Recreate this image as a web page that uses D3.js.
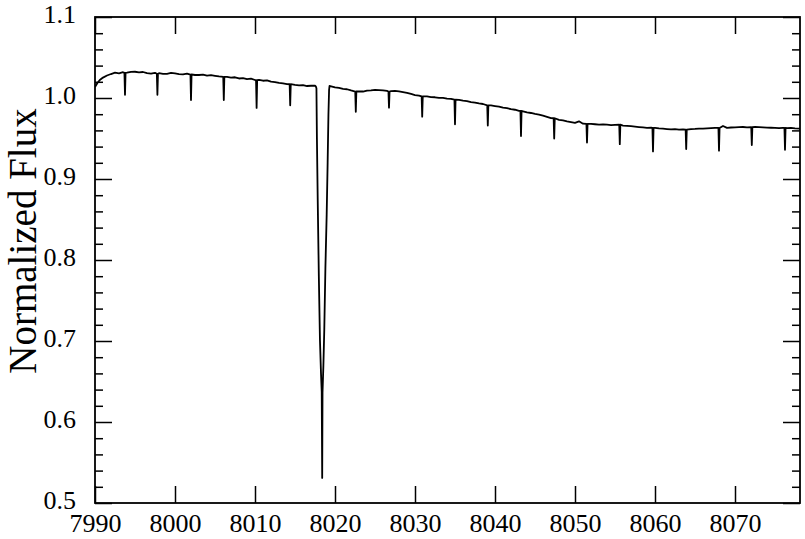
<!DOCTYPE html>
<html><head><meta charset="utf-8">
<script src="https://cdn.jsdelivr.net/npm/d3@7"></script>
<style>
body{margin:0;background:#fff}
svg{display:block}
text{font-family:"Liberation Serif","Times New Roman",serif;fill:#000}
</style>
</head><body>
<svg id="c" width="805" height="539"></svg>
<script>
// Continuum of the spectrum (wavelength in Å, normalized flux)
const contWave = [7990.0,7990.3,7990.6,7991.0,7991.5,7992.0,7992.5,7993.0,7993.5,7994.0,7994.5,7995.0,7995.5,7996.0,7996.5,7997.0,7997.5,7998.0,7998.5,7999.0,7999.5,8000.0,8000.5,8001.0,8001.5,8002.5,8003.0,8003.5,8004.0,8004.5,8005.0,8005.5,8006.5,8007.0,8007.5,8008.0,8008.5,8009.0,8009.5,8010.0,8010.5,8011.0,8011.5,8012.0,8012.5,8013.0,8013.5,8014.0,8015.0,8015.5,8016.0,8016.5,8017.0,8017.5,
  8019.4,8020.0,8020.5,8021.0,8021.5,8022.0,8023.0,8023.5,8024.0,8024.5,8025.0,8025.5,8026.0,8026.5,8027.0,8027.5,8028.0,8028.5,8029.0,8029.5,8030.0,8030.5,8031.5,8032.0,8032.5,8033.0,8033.5,8034.0,8034.5,8035.5,8036.0,8036.5,8037.0,8037.5,8038.0,8038.5,8039.5,8040.0,8040.5,8041.0,8041.5,8042.0,8042.5,8043.0,8043.5,8044.0,8044.5,8045.0,8045.5,8046.0,8046.5,8047.0,8048.0,8048.5,8049.0,8049.5,8050.0,8050.5,8051.0,8052.0,8052.5,8053.0,8053.5,8054.0,8054.5,8055.0,8056.0,8056.5,8057.0,8057.5,8058.0,8058.5,8059.0,8059.5,8060.0,8060.5,8061.0,8061.5,8062.0,8062.5,8063.0,8063.5,8064.5,8065.0,8065.5,8066.0,8066.5,8067.0,8067.5,8068.5,8069.0,8069.5,8070.0,8070.5,8071.0,8071.5,8072.5,8073.0,8073.5,8074.0,8074.5,8075.0,8075.5,8076.0,8076.5,8077.0,8077.5,8078.2];
const contFlux = [1.0135,1.0185,1.0222,1.0252,1.0278,1.0296,1.0312,1.0305,1.0318,1.0312,1.0322,1.0324,1.0316,1.0321,1.0306,1.0301,1.0311,1.0306,1.0298,1.0299,1.0309,1.0303,1.0296,1.0292,1.0301,1.0284,1.0284,1.0289,1.0277,1.0283,1.0274,1.0266,1.0260,1.0251,1.0256,1.0241,1.0245,1.0234,1.0238,1.0222,1.0225,1.0213,1.0218,1.0201,1.0197,1.0186,1.0180,1.0171,1.0162,1.0157,1.0160,1.0148,1.0151,1.0153,
  1.0148,1.0131,1.0124,1.0112,1.0108,1.0093,1.0083,1.0080,1.0091,1.0094,1.0100,1.0096,1.0093,1.0087,1.0085,1.0088,1.0081,1.0072,1.0063,1.0050,1.0036,1.0030,1.0019,1.0011,1.0009,1.0001,1.0002,0.9993,0.9989,0.9977,0.9968,0.9962,0.9950,0.9944,0.9933,0.9926,0.9908,0.9900,0.9893,0.9880,0.9874,0.9862,0.9855,0.9842,0.9836,0.9822,0.9815,0.9803,0.9795,0.9781,0.9768,0.9752,0.9731,0.9724,0.9712,0.9702,0.9693,0.9712,0.9683,0.9680,0.9676,0.9672,0.9675,0.9671,0.9666,0.9668,0.9660,0.9657,0.9652,0.9646,0.9641,0.9637,0.9632,0.9634,0.9630,0.9624,0.9621,0.9617,0.9612,0.9615,0.9610,0.9613,0.9616,0.9618,0.9622,0.9622,0.9626,0.9628,0.9631,0.9655,0.9631,0.9636,0.9638,0.9641,0.9642,0.9638,0.9643,0.9640,0.9637,0.9635,0.9633,0.9632,0.9628,0.9630,0.9627,0.9631,0.9625,0.9622];

// Strong absorption line profile
const lineWave = [8017.62,8017.68,8017.74,8017.84,8017.98,8018.12,8018.25,8018.34,8018.40,8018.44,8018.55,8018.66,8018.80,8018.96,8019.08,8019.18,8019.26,8019.32];
const lineFlux = [1.0140,1.0120,0.9500,0.8740,0.7800,0.7010,0.6600,0.6370,0.5310,0.6360,0.6700,0.7140,0.7900,0.8560,0.9200,0.9800,1.0100,1.0150];

// Narrow comb of weak absorption lines
const combWave = [7993.75,7997.8,8002.0,8006.1,8010.2,8014.4,8022.6,8026.75,8030.9,8035.0,8039.1,8043.25,8047.4,8051.5,8055.6,8059.75,8063.9,8068.0,8072.1,8076.25];
const combTop = [1.031,1.030,1.029,1.026,1.022,1.017,1.008,1.008,1.002,0.998,0.991,0.984,0.975,0.968,0.967,0.963,0.961,0.963,0.964,0.963];
const combBottom = [1.004,1.004,0.9975,0.9975,0.9877,0.991,0.983,0.988,0.977,0.9675,0.966,0.953,0.950,0.945,0.943,0.934,0.937,0.935,0.942,0.936];

// Axis ticks
const xTicks = [7990,8000,8010,8020,8030,8040,8050,8060,8070];
const yTicks = [0.5,0.6,0.7,0.8,0.9,1.0,1.1];
const yMinor = [0.52,0.54,0.56,0.58,0.62,0.64,0.66,0.68,0.72,0.74,0.76,0.78,0.82,0.84,0.86,0.88,0.92,0.94,0.96,0.98,1.02,1.04,1.06,1.08];

const L=95,R=800,T=17,B=503;
const x = d3.scaleLinear().domain([7990,8078.125]).range([L,R]);
const y = d3.scaleLinear().domain([0.5,1.1]).range([B,T]);
const svg = d3.select('#c');

// Build spectrum points
let pts = [];
contWave.forEach((w,i)=>{
  if (combWave.some(c=>Math.abs(c-w)<0.12)) return;
  pts.push([w,contFlux[i]]);
});
lineWave.forEach((w,i)=>pts.push([w,lineFlux[i]]));
combWave.forEach((w,i)=>{
  pts.push([w-0.07,combTop[i]]);
  pts.push([w,combBottom[i]]);
  pts.push([w+0.07,combTop[i]]);
});
pts.sort((a,b)=>a[0]-b[0]);

svg.append('defs').append('clipPath').attr('id','clip')
  .append('rect').attr('x',L).attr('y',T).attr('width',R-L).attr('height',B-T);

svg.append('path').datum(pts)
  .attr('clip-path','url(#clip)')
  .attr('fill','none').attr('stroke','#000').attr('stroke-width',1.8)
  .attr('stroke-linejoin','round')
  .attr('d', d3.line().x(d=>x(d[0])).y(d=>y(d[1])));

const fs = 26;
function style(g){
  g.select('.domain').remove();
  g.selectAll('.tick line').attr('stroke','#000').attr('stroke-width',1.5);
  g.selectAll('text').attr('font-size',fs).attr('font-family','"Liberation Serif",serif').attr('fill','#000');
}
// bottom
svg.append('g').attr('transform',`translate(0,${B})`)
  .call(d3.axisBottom(x).tickValues(xTicks).tickSizeInner(-17).tickSizeOuter(0).tickPadding(11).tickFormat(d3.format('d')))
  .call(style);
// top
svg.append('g').attr('transform',`translate(0,${T})`)
  .call(d3.axisTop(x).tickValues(xTicks).tickSizeInner(-17).tickSizeOuter(0).tickFormat(''))
  .call(style);
// left
svg.append('g').attr('transform',`translate(${L},0)`)
  .call(d3.axisLeft(y).tickValues(yTicks).tickSizeInner(-17).tickSizeOuter(0).tickPadding(19).tickFormat(d3.format('.1f')))
  .call(style)
  .call(g=>g.selectAll('text').attr('dy','0.2em'));
svg.append('g').attr('transform',`translate(${L},0)`)
  .call(d3.axisLeft(y).tickValues(yMinor).tickSizeInner(-8).tickSizeOuter(0).tickFormat(''))
  .call(style);
// right
svg.append('g').attr('transform',`translate(${R},0)`)
  .call(d3.axisRight(y).tickValues(yTicks).tickSizeInner(-17).tickSizeOuter(0).tickFormat(''))
  .call(style);
svg.append('g').attr('transform',`translate(${R},0)`)
  .call(d3.axisRight(y).tickValues(yMinor).tickSizeInner(-8).tickSizeOuter(0).tickFormat(''))
  .call(style);

// frame
svg.append('rect').attr('x',L).attr('y',T).attr('width',R-L).attr('height',B-T)
  .attr('fill','none').attr('stroke','#000').attr('stroke-width',1.8);

// y label
svg.append('text')
  .attr('transform','translate(36,241) rotate(-90)')
  .attr('text-anchor','middle')
  .attr('font-size',39)
  .text('Normalized Flux');
</script>
</body></html>
